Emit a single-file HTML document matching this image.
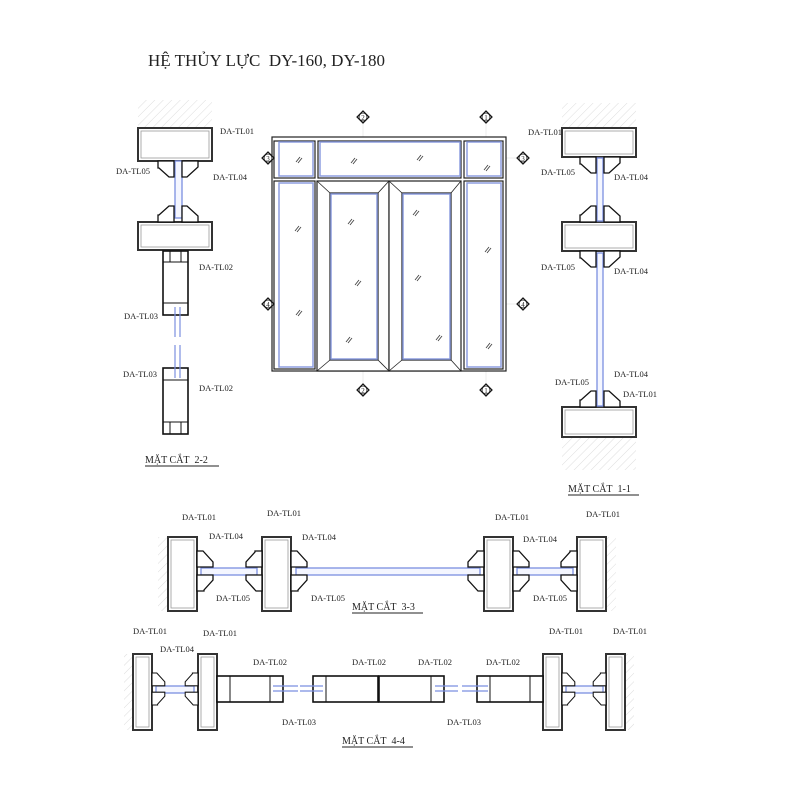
<!DOCTYPE html>
<html><head><meta charset="utf-8"><style>
html,body{margin:0;padding:0;background:#fff}
svg{display:block}
text{font-family:"Liberation Serif",serif;fill:#222}
.l{font-size:8.5px}
.g{fill:#aaa}
.bx rect{fill:#fff;stroke:#333;stroke-width:2}
.in rect{fill:none;stroke:#999;stroke-width:.8}
</style></head><body>
<svg width="800" height="800" viewBox="0 0 800 800" xmlns="http://www.w3.org/2000/svg">
<defs>
<pattern id="h" width="6" height="6" patternUnits="userSpaceOnUse" patternTransform="rotate(45)"><line x1="0" y1="0" x2="0" y2="6" stroke="#ddd" stroke-width="1"/></pattern>
<g id="cl">
<path d="M-20,0 L-4,0 L-4,16 L-9,16 L-19,7 L-20,7 Z" fill="#fff" stroke="#111" stroke-width="1.3"/>
<path d="M4,0 L20,0 L20,6 L9,16 L4,16 Z" fill="#fff" stroke="#111" stroke-width="1.3"/>
</g>
<g id="mk"><path d="M-6,0 L0,-6 L6,0 L0,6 Z" fill="#fff" stroke="#111" stroke-width="1.2"/><circle r="4" fill="#fff" stroke="#111" stroke-width=".8"/></g>
</defs>

<text x="148" y="66" font-size="17">HỆ THỦY LỰC&#160; DY-160, DY-180</text>

<!-- ELEVATION -->
<g stroke="#eee" stroke-width="1"><line x1="363" y1="110" x2="363" y2="395"/><line x1="486" y1="110" x2="486" y2="395"/><line x1="268" y1="158" x2="523" y2="158"/><line x1="268" y1="304" x2="523" y2="304"/></g>
<g fill="#fff" stroke="#222" stroke-width="1.2">
<rect x="272" y="137" width="234" height="234"/>
<rect x="274" y="141" width="41" height="37"/><rect x="318" y="141" width="143" height="37"/><rect x="464" y="141" width="39" height="37"/>
<rect x="274" y="181" width="41" height="188"/><rect x="464" y="181" width="39" height="188"/>
<rect x="317" y="181" width="72" height="190"/><rect x="389" y="181" width="72" height="190"/>
<rect x="330" y="193" width="48" height="167"/><rect x="402" y="193" width="49" height="167"/>
</g>
<g stroke="#222" stroke-width=".8"><line x1="317" y1="181" x2="330" y2="193"/><line x1="389" y1="181" x2="378" y2="193"/><line x1="317" y1="371" x2="330" y2="360"/><line x1="389" y1="371" x2="378" y2="360"/>
<line x1="389" y1="181" x2="402" y2="193"/><line x1="461" y1="181" x2="451" y2="193"/><line x1="389" y1="371" x2="402" y2="360"/><line x1="461" y1="371" x2="451" y2="360"/></g>
<g fill="none" stroke="#8d9ee0" stroke-width="1.5">
<rect x="279" y="142" width="34" height="34"/><rect x="320" y="142" width="140" height="34"/><rect x="467" y="142" width="34" height="34"/>
<rect x="279" y="183" width="34" height="184"/><rect x="467" y="183" width="34" height="184"/>
<rect x="331" y="194" width="46" height="165"/><rect x="403" y="194" width="47" height="165"/>
</g>
<g stroke="#444" stroke-width=".9">
<path d="M296,162 l4,-5 M298,163 l4,-5 M351,163 l4,-5 M353,164 l4,-5 M417,160 l4,-5 M419,161 l4,-5 M484,170 l4,-5 M486,171 l4,-5
M295,231 l4,-5 M297,232 l4,-5 M296,315 l4,-5 M298,316 l4,-5 M348,224 l4,-5 M350,225 l4,-5 M355,285 l4,-5 M357,286 l4,-5 M346,342 l4,-5 M348,343 l4,-5
M413,215 l4,-5 M415,216 l4,-5 M415,280 l4,-5 M417,281 l4,-5 M436,340 l4,-5 M438,341 l4,-5 M485,252 l4,-5 M487,253 l4,-5 M486,348 l4,-5 M488,349 l4,-5"/>
</g>
<use href="#mk" x="363" y="117"/><use href="#mk" x="486" y="117"/><use href="#mk" x="363" y="390"/><use href="#mk" x="486" y="390"/>
<use href="#mk" x="268" y="158"/><use href="#mk" x="523" y="158"/><use href="#mk" x="268" y="304"/><use href="#mk" x="523" y="304"/>
<g font-size="7" text-anchor="middle"><text x="363" y="120">2</text><text x="486" y="120">1</text><text x="363" y="393">2</text><text x="486" y="393">1</text><text x="268" y="161">3</text><text x="523" y="161">3</text><text x="268" y="307">4</text><text x="523" y="307">4</text></g>

<!-- SECTION 2-2 -->
<rect x="138" y="100" width="74" height="28" fill="url(#h)"/>
<g class="bx"><rect x="138" y="128" width="74" height="33"/><rect x="138" y="222" width="74" height="28"/></g>
<g class="in"><rect x="141" y="131" width="68" height="27"/><rect x="141" y="225" width="68" height="22"/></g>
<rect x="175" y="161" width="7" height="57" fill="#f4f6ff" stroke="#7b8fe0" stroke-width="1.3"/>
<use href="#cl" x="178" y="161"/><use href="#cl" transform="translate(178,222) scale(1,-1)"/>
<g fill="#fff" stroke="#111" stroke-width="1.6"><rect x="163" y="251" width="25" height="64"/><rect x="163" y="368" width="25" height="66"/></g>
<g stroke="#111" stroke-width="1"><line x1="163" y1="262" x2="188" y2="262"/><line x1="163" y1="303" x2="188" y2="303"/><line x1="163" y1="380" x2="188" y2="380"/><line x1="163" y1="422" x2="188" y2="422"/>
<line x1="170" y1="251" x2="170" y2="262"/><line x1="181" y1="251" x2="181" y2="262"/><line x1="170" y1="422" x2="170" y2="434"/><line x1="181" y1="422" x2="181" y2="434"/></g>
<g stroke="#7b8fe0" stroke-width="1.2"><line x1="175" y1="307" x2="175" y2="337"/><line x1="180" y1="307" x2="180" y2="337"/><line x1="175" y1="345" x2="175" y2="378"/><line x1="180" y1="345" x2="180" y2="378"/></g>
<g class="l"><text x="220" y="134">DA-TL01</text><text x="116" y="174">DA-TL05</text><text x="213" y="180">DA-TL04</text><text x="199" y="270">DA-TL02</text><text x="124" y="319">DA-TL03</text><text x="123" y="377">DA-TL03</text><text x="199" y="391">DA-TL02</text></g>
<text x="145" y="463" font-size="10">MẶT CẮT&#160; 2-2</text><line x1="145" y1="466" x2="219" y2="466" stroke="#222"/>

<!-- SECTION 1-1 -->
<rect x="562" y="103" width="74" height="25" fill="url(#h)"/><rect x="562" y="437" width="74" height="33" fill="url(#h)"/>
<g class="bx"><rect x="562" y="128" width="74" height="29"/><rect x="562" y="222" width="74" height="29"/><rect x="562" y="407" width="74" height="30"/></g>
<g class="in"><rect x="565" y="131" width="68" height="23"/><rect x="565" y="225" width="68" height="23"/><rect x="565" y="410" width="68" height="24"/></g>
<rect x="597" y="158" width="6" height="63" fill="#f4f6ff" stroke="#7b8fe0" stroke-width="1.3"/>
<rect x="597" y="253" width="6" height="153" fill="#f4f6ff" stroke="#7b8fe0" stroke-width="1.3"/>
<use href="#cl" x="600" y="157"/><use href="#cl" transform="translate(600,222) scale(1,-1)"/><use href="#cl" x="600" y="251"/><use href="#cl" transform="translate(600,407) scale(1,-1)"/>
<g class="l"><text x="528" y="135">DA-TL01</text><text x="541" y="175">DA-TL05</text><text x="614" y="180">DA-TL04</text><text x="541" y="270">DA-TL05</text><text x="614" y="274">DA-TL04</text><text x="614" y="377">DA-TL04</text><text x="555" y="385">DA-TL05</text><text x="623" y="397">DA-TL01</text></g>
<text x="568" y="492" font-size="10">MẶT CẮT&#160; 1-1</text><line x1="568" y1="495" x2="639" y2="495" stroke="#222"/>

<!-- SECTION 3-3 -->
<rect x="158" y="537" width="10" height="74" fill="url(#h)"/><rect x="606" y="537" width="10" height="74" fill="url(#h)"/>
<g class="bx"><rect x="168" y="537" width="29" height="74"/><rect x="262" y="537" width="29" height="74"/><rect x="484" y="537" width="29" height="74"/><rect x="577" y="537" width="29" height="74"/></g>
<g class="in"><rect x="171" y="540" width="23" height="68"/><rect x="265" y="540" width="23" height="68"/><rect x="487" y="540" width="23" height="68"/><rect x="580" y="540" width="23" height="68"/></g>
<g fill="#f4f6ff" stroke="#7b8fe0" stroke-width="1.3"><rect x="201" y="568" width="56" height="7"/><rect x="296" y="568" width="184" height="7"/><rect x="517" y="568" width="56" height="7"/></g>
<use href="#cl" transform="translate(197,571) rotate(-90)"/><use href="#cl" transform="translate(262,571) rotate(90)"/>
<use href="#cl" transform="translate(291,571) rotate(-90)"/><use href="#cl" transform="translate(484,571) rotate(90)"/>
<use href="#cl" transform="translate(513,571) rotate(-90)"/><use href="#cl" transform="translate(577,571) rotate(90)"/>
<g class="l"><text x="182" y="520">DA-TL01</text><text x="209" y="539">DA-TL04</text><text x="267" y="516">DA-TL01</text><text x="302" y="540">DA-TL04</text><text x="495" y="520">DA-TL01</text><text x="523" y="542">DA-TL04</text><text x="586" y="517">DA-TL01</text></g>
<g class="l g"><text x="216" y="601">DA-TL05</text><text x="311" y="601">DA-TL05</text><text x="533" y="601">DA-TL05</text></g>
<text x="352" y="610" font-size="10">MẶT CẮT&#160; 3-3</text><line x1="352" y1="613" x2="423" y2="613" stroke="#222"/>

<!-- SECTION 4-4 -->
<rect x="124" y="654" width="9" height="76" fill="url(#h)"/><rect x="625" y="654" width="9" height="76" fill="url(#h)"/>
<g class="bx"><rect x="133" y="654" width="19" height="76"/><rect x="198" y="654" width="19" height="76"/><rect x="543" y="654" width="19" height="76"/><rect x="606" y="654" width="19" height="76"/></g>
<g class="in"><rect x="136" y="657" width="13" height="70"/><rect x="201" y="657" width="13" height="70"/><rect x="546" y="657" width="13" height="70"/><rect x="609" y="657" width="13" height="70"/></g>
<g fill="#f4f6ff" stroke="#7b8fe0" stroke-width="1.3"><rect x="156" y="686" width="38" height="7"/><rect x="566" y="686" width="37" height="7"/></g>
<use href="#cl" transform="translate(152,689) scale(.8) rotate(-90)"/><use href="#cl" transform="translate(198,689) scale(.8) rotate(90)"/>
<use href="#cl" transform="translate(562,689) scale(.8) rotate(-90)"/><use href="#cl" transform="translate(606,689) scale(.8) rotate(90)"/>
<g fill="#fff" stroke="#111" stroke-width="1.6"><rect x="217" y="676" width="66" height="26"/><rect x="313" y="676" width="65" height="26"/><rect x="379" y="676" width="65" height="26"/><rect x="477" y="676" width="66" height="26"/></g>
<g stroke="#111" stroke-width="1"><line x1="230" y1="676" x2="230" y2="702"/><line x1="270" y1="676" x2="270" y2="702"/><line x1="326" y1="676" x2="326" y2="702"/><line x1="431" y1="676" x2="431" y2="702"/><line x1="490" y1="676" x2="490" y2="702"/><line x1="530" y1="676" x2="530" y2="702"/></g>
<g stroke="#7b8fe0" stroke-width="1.2"><line x1="273" y1="686" x2="298" y2="686"/><line x1="273" y1="691" x2="298" y2="691"/><line x1="300" y1="686" x2="323" y2="686"/><line x1="300" y1="691" x2="323" y2="691"/><line x1="435" y1="686" x2="458" y2="686"/><line x1="435" y1="691" x2="458" y2="691"/><line x1="462" y1="686" x2="488" y2="686"/><line x1="462" y1="691" x2="488" y2="691"/></g>
<g class="l"><text x="133" y="634">DA-TL01</text><text x="203" y="636">DA-TL01</text><text x="160" y="652">DA-TL04</text><text x="253" y="665">DA-TL02</text><text x="352" y="665">DA-TL02</text><text x="418" y="665">DA-TL02</text><text x="486" y="665">DA-TL02</text><text x="282" y="725">DA-TL03</text><text x="447" y="725">DA-TL03</text><text x="549" y="634">DA-TL01</text><text x="613" y="634">DA-TL01</text></g>
<text x="342" y="744" font-size="10">MẶT CẮT&#160; 4-4</text><line x1="342" y1="747" x2="413" y2="747" stroke="#222"/>
</svg>
</body></html>
